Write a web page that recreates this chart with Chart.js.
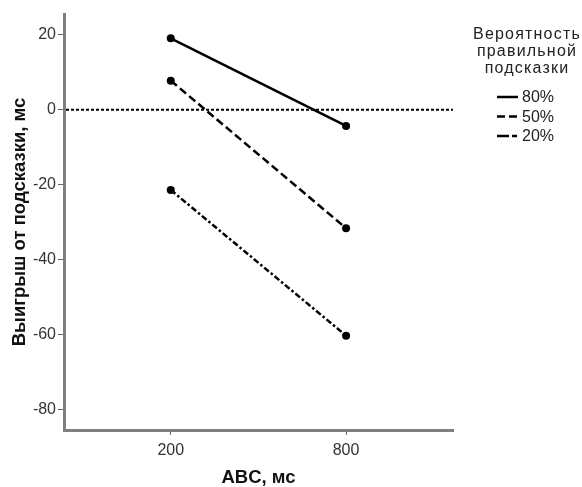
<!DOCTYPE html>
<html>
<head>
<meta charset="utf-8">
<script src="https://cdn.jsdelivr.net/npm/chart.js@4/dist/chart.umd.min.js"></script>
<style>
  html, body { margin: 0; padding: 0; background: #fff; }
  #wrap { width: 582px; height: 487px; }
</style>
</head>
<body>
<div id="wrap"><canvas id="c" width="582" height="487"></canvas></div>
<script>
// ---- data ----
const categories = ['200', '800'];
const seriesNames = ['80%', '50%', '20%'];
const values80 = [19.1, -4.3];
const values50 = [7.8, -31.6];
const values20 = [-21.4, -60.3];
const yTicks = [-80, -60, -40, -20, 0, 20];
const legendTitle = ['Вероятность', 'правильной', 'подсказки'];
const xTitle = 'ABC, мс';
const yTitle = 'Выигрыш от подсказки, мс';

const FONT = '"Liberation Sans", Arial, sans-serif';

function toPoints(vals) { return vals.map((v, i) => ({ x: i, y: v })); }

const styles = [
  { dash: [], legendDash: [] },
  { dash: [8, 4], legendDash: [8, 4] },
  { dash: [6, 2.5, 2.5, 2.5], legendDash: [12, 3, 5, 3] }
];

const allSeries = [values80, values50, values20];
const datasets = allSeries.map((vals, i) => ({
  label: seriesNames[i],
  data: toPoints(vals),
  borderColor: '#000',
  backgroundColor: '#000',
  borderWidth: 2.5,
  borderDash: styles[i].dash,
  legendDash: styles[i].legendDash,
  pointRadius: 4,
  pointBackgroundColor: '#000',
  pointBorderWidth: 0,
  tension: 0,
  fill: false
}));

const zeroLine = {
  id: 'zeroLine',
  beforeDatasetsDraw(chart) {
    const { ctx, chartArea, scales } = chart;
    const y = scales.y.getPixelForValue(0);
    ctx.save();
    ctx.strokeStyle = '#000';
    ctx.lineWidth = 2;
    ctx.setLineDash([3, 2]);
    ctx.beginPath();
    ctx.moveTo(chartArea.left + 2, y);
    ctx.lineTo(chartArea.right, y);
    ctx.stroke();
    ctx.restore();
  }
};

const customLegend = {
  id: 'customLegend',
  afterDraw(chart) {
    const { ctx } = chart;
    ctx.save();
    ctx.fillStyle = '#222';
    ctx.font = '16px ' + FONT;
    ctx.textAlign = 'center';
    ctx.textBaseline = 'alphabetic';
    try { ctx.letterSpacing = '1.2px'; } catch (e) {}
    legendTitle.forEach((t, i) => ctx.fillText(t, 527, 39 + i * 17));
    try { ctx.letterSpacing = '0px'; } catch (e) {}
    chart.data.datasets.forEach((ds, i) => {
      const y = 97 + i * 19.5;
      ctx.strokeStyle = '#000';
      ctx.lineWidth = 2.5;
      ctx.setLineDash(ds.legendDash || []);
      ctx.beginPath();
      ctx.moveTo(497, y);
      ctx.lineTo(518, y);
      ctx.stroke();
      ctx.setLineDash([]);
      ctx.textAlign = 'left';
      ctx.textBaseline = 'middle';
      ctx.fillStyle = '#222';
      ctx.font = '16px ' + FONT;
      ctx.fillText(ds.label, 522, y + 1);
    });
    ctx.restore();
  }
};

new Chart(document.getElementById('c'), {
  type: 'line',
  data: { datasets },
  plugins: [zeroLine, customLegend],
  options: {
    responsive: false,
    animation: false,
    layout: { padding: { top: 14, right: 129, left: 0, bottom: 0 } },
    plugins: { legend: { display: false }, tooltip: { enabled: false } },
    scales: {
      x: {
        type: 'linear',
        min: -0.609,
        max: 1.61,
        afterBuildTicks: (s) => { s.ticks = categories.map((c, i) => ({ value: i })); },
        afterFit: (s) => { s.height = 57; },
        ticks: {
          callback: (v) => categories[v],
          color: '#333',
          font: { family: FONT, size: 16 },
          padding: 6
        },
        grid: { drawOnChartArea: false, drawTicks: true, tickLength: 5, color: '#666', tickWidth: 1 },
        border: { display: true, color: '#808080', width: 3 },
        title: { display: true, text: xTitle, color: '#111', font: { family: FONT, size: 18.5, weight: 'bold', lineHeight: 1 }, padding: { top: 0, bottom: 0 } }
      },
      y: {
        type: 'linear',
        min: -85.5,
        max: 25.6,
        afterBuildTicks: (s) => { s.ticks = yTicks.map(v => ({ value: v })); },
        afterFit: (s) => { s.width = 64; },
        ticks: {
          color: '#333',
          font: { family: FONT, size: 16 },
          padding: 2
        },
        grid: { drawOnChartArea: false, drawTicks: true, tickLength: 6, color: '#666', tickWidth: 1 },
        border: { display: true, color: '#808080', width: 3 },
        title: { display: true, text: yTitle, color: '#111', font: { family: FONT, size: 18.5, weight: 'bold' }, padding: { top: 9, bottom: 0 } }
      }
    }
  }
});
</script>
</body>
</html>
